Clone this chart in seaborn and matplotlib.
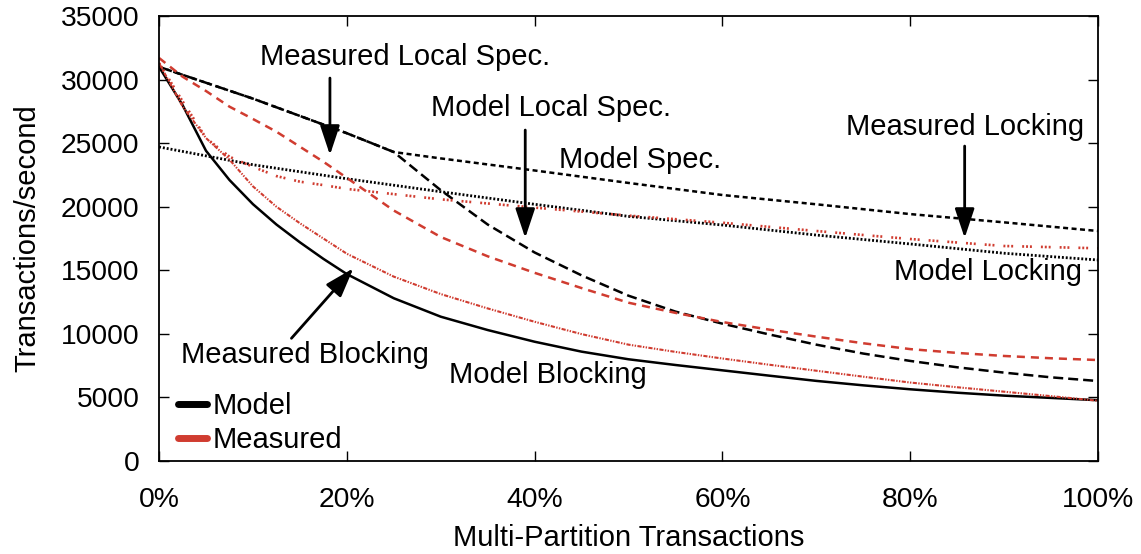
import matplotlib
matplotlib.use("Agg")
import matplotlib.pyplot as plt
import seaborn as sns
from matplotlib.lines import Line2D

# x = % of multi-partition transactions, y = transactions/second
model_blocking_x = [0, 2.5, 5, 7.5, 10, 12.5, 15, 17.5, 20, 25, 30, 35, 40, 45,
                    50, 55, 60, 65, 70, 75, 80, 85, 90, 95, 100]
model_blocking_y = [31000, 28000, 24400, 22100, 20200, 18600, 17200, 15900,
                    14700, 12800, 11350, 10300, 9380, 8600, 8000, 7550, 7130,
                    6710, 6300, 5950, 5640, 5370, 5140, 4960, 4780]

measured_blocking_x = [0, 2.5, 5, 7.5, 10, 12.5, 15, 17.5, 20, 25, 30, 35, 40,
                       45, 50, 55, 60, 65, 70, 75, 80, 85, 90, 95, 100]
measured_blocking_y = [31300, 27900, 25400, 23700, 21600, 20000, 18700, 17500,
                       16300, 14500, 13130, 12000, 10950, 9980, 9150, 8580,
                       8060, 7570, 7100, 6630, 6170, 5800, 5450, 5100, 4740]

model_spec_x = [0, 10, 20, 25, 30, 40, 50, 60, 70, 80, 90, 100]
model_spec_y = [31000, 28500, 25780, 24300, 23800, 22850, 21870, 20920,
                20190, 19420, 18770, 18090]

model_local_spec_x = [0, 10, 20, 25, 30, 35, 40, 45, 50, 55, 60, 65, 70, 75,
                      80, 85, 90, 95, 100]
model_local_spec_y = [31000, 28500, 25780, 24300, 21300, 18600, 16400, 14600,
                      13000, 11750, 10800, 9950, 9150, 8450, 7870, 7370, 6950,
                      6580, 6290]

measured_local_spec_x = [0, 2.5, 5, 7.5, 10, 12.5, 15, 17.5, 20, 25, 30, 35,
                         40, 45, 50, 55, 60, 65, 70, 75, 80, 85, 90, 95, 100]
measured_local_spec_y = [31700, 30230, 29100, 27870, 26900, 25900, 24720,
                         23540, 22270, 19700, 17620, 16100, 14800, 13600, 12450,
                         11650, 10930, 10330, 9780, 9260, 8800, 8500, 8260,
                         8080, 7940]

model_locking_x = [0, 10, 20, 30, 40, 50, 60, 70, 80, 90, 100]
model_locking_y = [24700, 23300, 22200, 21180, 20190, 19240, 18560, 17770,
                   17070, 16340, 15810]

measured_locking_x = [0, 2.5, 5, 7.5, 10, 12.5, 15, 17.5, 20, 30, 40, 50, 60,
                      70, 80, 90, 100]
measured_locking_y = [31300, 28300, 25400, 23930, 23140, 22410, 21970, 21700,
                      21400, 20580, 19930, 19300, 18740, 18090, 17460, 16910,
                      16730]

BLACK = "black"
RED = "#d03c30"

sns.set_style("ticks")
plt.rcParams["font.family"] = ["Liberation Sans", "DejaVu Sans"]
plt.rcParams["lines.scale_dashes"] = False
plt.rcParams["text.color"] = "black"
plt.rcParams["axes.labelcolor"] = "black"
plt.rcParams["xtick.color"] = "black"
plt.rcParams["ytick.color"] = "black"

fig = plt.figure(figsize=(11.41, 5.54), dpi=100)
ax = fig.add_axes([0.1394, 0.1679, 0.8229, 0.8032])

series = [
    (model_blocking_x, model_blocking_y, BLACK, 1.8, "-"),
    (model_spec_x, model_spec_y, BLACK, 1.8, (0, (3.6, 2.5))),
    (model_local_spec_x, model_local_spec_y, BLACK, 1.8, (0, (7.2, 3.6))),
    (model_locking_x, model_locking_y, BLACK, 2.0, (0, (1.4, 1.4))),
    (measured_local_spec_x, measured_local_spec_y, RED, 1.8, (0, (5.8, 4.3))),
    (measured_locking_x, measured_locking_y, RED, 1.9,
     (0, (1.4, 1.4, 1.4, 1.4, 1.4, 6.5))),
    (measured_blocking_x, measured_blocking_y, RED, 1.5,
     (0, (3, 1, 1, 1, 1, 1))),
]
for xs, ys, color, lw, ls in series:
    sns.lineplot(x=xs, y=ys, ax=ax, color=color, linewidth=lw, linestyle=ls,
                 estimator=None, sort=False)

ax.set_xlim(0, 100)
ax.set_ylim(0, 35000)
ax.set_xticks([0, 20, 40, 60, 80, 100])
ax.set_xticklabels(["0%", "20%", "40%", "60%", "80%", "100%"])
ax.set_yticks(range(0, 35001, 5000))
ax.tick_params(direction="in", length=7, width=1, labelsize=20.3,
               top=True, right=True)
ax.tick_params(axis="x", pad=19)
ax.tick_params(axis="y", pad=14)
for sp in ax.spines.values():
    sp.set_visible(True)
    sp.set_linewidth(1.3)
    sp.set_color("black")

fs = 21
ax.set_xlabel("Multi-Partition Transactions", fontsize=fs, labelpad=8)
ax.set_ylabel("Transactions/second", fontsize=fs, labelpad=14)

labels = [
    ("Measured Local Spec.", 26.2, 31775),
    ("Model Local Spec.", 41.7, 27760),
    ("Model Spec.", 51.2, 23670),
    ("Measured Locking", 85.8, 26270),
    ("Model Locking", 88.3, 14860),
    ("Measured Blocking", 15.5, 8340),
    ("Model Blocking", 41.4, 6760),
]
for txt, x, y in labels:
    ax.text(x, y, txt, fontsize=fs, ha="center", va="center")

arrows = [
    ((18.2, 30120), (18.2, 24070)),
    ((39.0, 26030), (39.0, 17540)),
    ((85.8, 24770), (85.8, 17540)),
    ((14.1, 9650), (20.7, 15160)),
]
for tail, tip in arrows:
    ax.annotate("", xy=tip, xytext=tail,
                arrowprops=dict(arrowstyle="-|>,head_length=0.9,head_width=0.3",
                                color="black", lw=2, shrinkA=0, shrinkB=0,
                                mutation_scale=20))

handles = [
    Line2D([0], [0], color=BLACK, lw=5, solid_capstyle="round"),
    Line2D([0], [0], color=RED, lw=5, solid_capstyle="round"),
]
ax.legend(handles, ["Model", "Measured"], loc="lower left",
          bbox_to_anchor=(0.02, 0.016), frameon=False, fontsize=fs,
          handlelength=1.0, handletextpad=0.2, labelspacing=0.2,
          borderpad=0, borderaxespad=0)

fig.savefig("out.png", dpi=100)
